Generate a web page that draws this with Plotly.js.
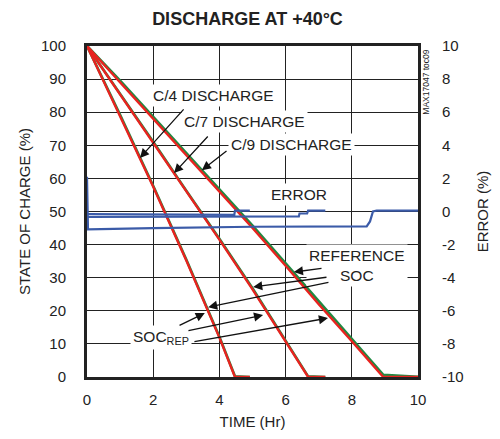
<!DOCTYPE html>
<html>
<head>
<meta charset="utf-8">
<script src="https://cdn.plot.ly/plotly-3.0.1.min.js"></script>
<style>html,body{margin:0;padding:0;background:#fff;}#chart{width:500px;height:439px;}</style>
</head>
<body>
<div id="chart"></div>
<script>
// ---- data ----
// State of charge, reported (red) and reference (green), per discharge rate
var tC4   = [0, 1, 2, 3, 4, 4.47, 4.92];
var socC4 = [100, 79, 57.5, 35.2, 11.9, 0, 0];
var refC4 = [100, 79.2, 57.8, 35.5, 12.2, 0.2, 0];
var tC7   = [0, 1, 2, 3, 4, 5, 6, 6.68, 7.2];
var socC7 = [100, 85.4, 70.8, 56, 41.5, 26.5, 10.8, 0, 0];
var refC7 = [100, 85.6, 71.1, 56.3, 41.8, 26.8, 11.1, 0.2, 0];
var tC9   = [0, 1, 2, 3, 4, 5, 6, 7, 8, 8.95, 10];
var socC9 = [100, 89, 78, 67, 56, 45, 33.6, 22, 10.8, 0, 0];
var refC9 = [100, 89.5, 78.6, 67.7, 56.7, 45.7, 34.3, 22.8, 11.6, 0.6, 0];
// Error (%) per discharge rate
var tErr4 = [0, 0.02, 4.45, 4.47, 4.92];
var err4  = [-0.15, -0.15, -0.2, 0.05, 0.05];
var tErr7 = [0, 6.4, 6.42, 6.65, 6.68, 7.2];
var err7  = [-0.33, -0.3, -0.12, -0.12, 0.05, 0.05];
var tErr9 = [0, 0.03, 2, 5, 8.45, 8.55, 8.64, 8.75, 10];
var err9  = [2.1, -1.08, -1.0, -0.92, -0.9, -0.6, 0.0, 0.05, 0.05];
// tick labels
var socTicks = [0, 10, 20, 30, 40, 50, 60, 70, 80, 90, 100];
var errTickVals = [-10, -8, -6, -4, -2, 0, 2, 4, 6, 8, 10];
var errTickText = ['-10', '-8', '-6', '-4', '-2', '0', '2', '4', '6', '8', '10'];
var timeTicks = [0, 2, 4, 6, 8, 10];

var FONT = 'Liberation Sans, Arial, sans-serif';
var RED = '#e8231f', GREEN = '#1f8a43', BLUE = '#3b5ba8', INK = '#222';

function soc(t, v, c, w) { return {x: t, y: v, mode: 'lines', line: {color: c, width: w}, hoverinfo: 'skip', showlegend: false}; }
function err(t, v) { return {x: t, y: v, yaxis: 'y2', mode: 'lines', line: {color: BLUE, width: 2.2}, hoverinfo: 'skip', showlegend: false}; }

var traces = [
  soc(tC4, refC4, GREEN, 2.6), soc(tC7, refC7, GREEN, 2.6), soc(tC9, refC9, GREEN, 2.8),
  soc(tC4, socC4, RED, 2.4), soc(tC7, socC7, RED, 2.4), soc(tC9, socC9, RED, 2.4),
  err(tErr4, err4), err(tErr7, err7), err(tErr9, err9)
];

function label(txt, x, y) {
  return {text: txt, x: x, y: y, xref: 'x', yref: 'y', showarrow: false, bgcolor: '#fff', borderpad: 2,
          font: {family: FONT, size: 15.5, color: INK}};
}
function arrow(x, y, ax, ay) {
  return {text: '', x: x, y: y, ax: ax, ay: ay, xref: 'x', yref: 'y', axref: 'x', ayref: 'y',
          showarrow: true, arrowhead: 2, arrowsize: 1.4, arrowwidth: 1.3, arrowcolor: '#111', standoff: 0};
}

var annotations = [
  label('C/4 DISCHARGE', 3.81, 84.9),
  label('C/7 DISCHARGE', 4.77, 77.3),
  label('C/9 DISCHARGE', 6.19, 70.1),
  label('ERROR', 6.40, 55.0),
  label('REFERENCE<br>SOC', 8.15, 33.8),
  label('SOC<sub>REP</sub>', 2.24, 11.8),
  arrow(1.60, 66.2, 2.96, 81.3),
  arrow(2.63, 61.6, 3.69, 73.1),
  arrow(3.47, 62.5, 4.26, 68.6),
  arrow(6.25, 31.7, 7.13, 32.9),
  arrow(5.02, 27.2, 7.28, 30.2),
  arrow(3.66, 21.1, 7.34, 28.7),
  arrow(3.56, 19.3, 2.75, 15.4),
  arrow(5.32, 18.7, 3.02, 13.9),
  arrow(7.28, 17.8, 3.20, 10.6),
  {text: 'MAX17047 toc09', xref: 'paper', yref: 'paper', x: 1.025, xanchor: 'center', y: 0.89, yanchor: 'middle',
   textangle: -90, showarrow: false, font: {family: FONT, size: 8.5, color: INK}}
];

var layout = {
  width: 500, height: 439,
  margin: {l: 87, r: 82, t: 46, b: 62},
  paper_bgcolor: '#fff', plot_bgcolor: '#fff',
  font: {family: FONT, size: 15, color: INK},
  title: {text: '<b>DISCHARGE AT +40°C</b>', x: 0.495, xanchor: 'center', y: 0.958, yanchor: 'middle',
          font: {family: FONT, size: 18, color: INK}},
  xaxis: {range: [0, 10], tickvals: timeTicks, showgrid: true, gridcolor: '#222', gridwidth: 1,
          showline: true, linecolor: '#222', linewidth: 3, mirror: true, zeroline: false, ticks: '',
          ticklabelstandoff: 7, fixedrange: true,
          title: {text: 'TIME (Hr)', standoff: 10, font: {family: FONT, size: 15, color: INK}}},
  yaxis: {range: [0, 100], tickvals: socTicks, showgrid: true, gridcolor: '#222', gridwidth: 1,
          showline: true, linecolor: '#222', linewidth: 3, mirror: true, zeroline: false, ticks: '',
          ticklabelstandoff: 15, fixedrange: true,
          title: {text: 'STATE OF CHARGE (%)', standoff: 7, font: {family: FONT, size: 15, color: INK}}},
  yaxis2: {range: [-10, 10], overlaying: 'y', side: 'right', tickvals: errTickVals, ticktext: errTickText,
           showgrid: false, showline: false, zeroline: false, ticks: '', ticklabelstandoff: 23, fixedrange: true,
           title: {text: 'ERROR (%)', standoff: 14, font: {family: FONT, size: 15, color: INK}}},
  annotations: annotations
};

Plotly.newPlot('chart', traces, layout, {staticPlot: true, displayModeBar: false});
</script>
</body>
</html>
